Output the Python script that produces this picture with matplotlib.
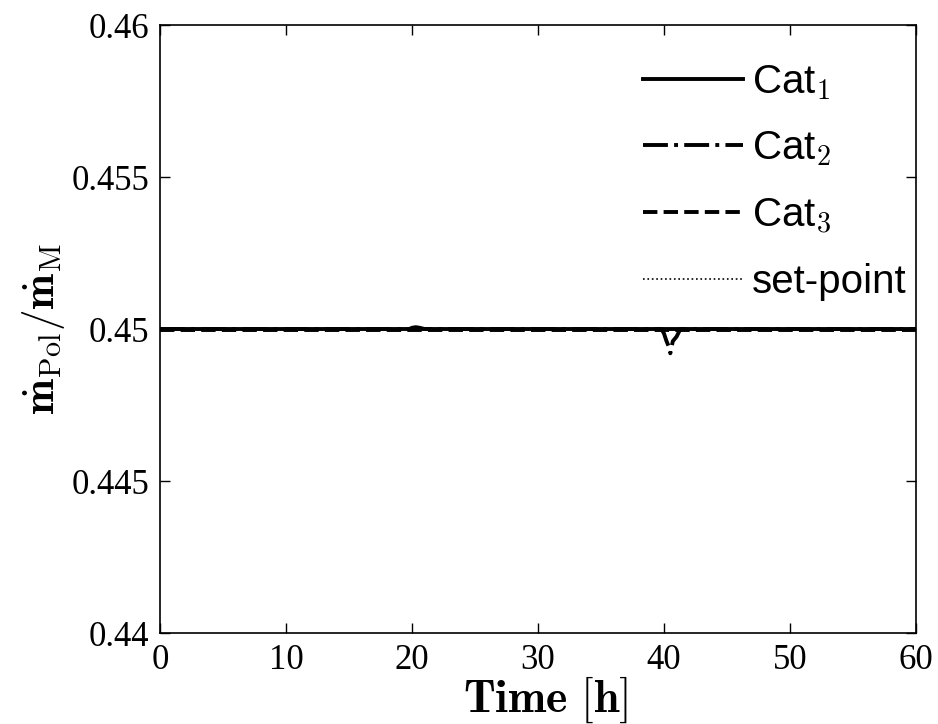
import matplotlib
matplotlib.use("Agg")
import matplotlib.pyplot as plt

plt.rcParams["mathtext.fontset"] = "cm"

# data
t_cat1 = [0, 19.8, 20.0, 20.3, 20.6, 21.0, 60]
y_cat1 = [0.45, 0.45, 0.45004, 0.45006, 0.45004, 0.45, 0.45]
t_cat2 = [0, 39.8, 40.0, 40.2, 40.4, 40.5, 40.7, 41.0, 41.3, 60]
y_cat2 = [0.45, 0.45, 0.44985, 0.4496, 0.4494, 0.44920, 0.4496, 0.44975, 0.45, 0.45]
t_cat3 = [0, 60]
y_cat3 = [0.44997, 0.44997]
t_set = [0, 60]
y_set = [0.45, 0.45]
labels = ["Cat$_1$", "Cat$_2$", "Cat$_3$", "set-point"]
xticks = [0, 10, 20, 30, 40, 50, 60]
yticks = [0.44, 0.445, 0.45, 0.455, 0.46]
ytick_labels = ["0.44", "0.445", "0.45", "0.455", "0.46"]

fig = plt.figure(figsize=(9.38, 7.24), dpi=100)
ax = fig.add_axes([160/938, 1-633/724, (916-160)/938, (633-25)/724])

ax.plot(t_cat1, y_cat1, color="black", lw=2.8, ls="-", label=labels[0])
ax.plot(t_cat2, y_cat2, color="black", lw=2.8, ls="-.", label=labels[1])
ax.plot(t_cat3, y_cat3, color="black", lw=2.8, ls="--", label=labels[2])
ax.plot(t_set, y_set, color="black", lw=1.2, ls=":", label=labels[3])

ax.set_xlim(0, 60)
ax.set_ylim(0.44, 0.46)
ax.set_xticks(xticks)
ax.set_yticks(yticks)
ax.set_yticklabels(ytick_labels)
ax.tick_params(direction="in", length=7, width=1, top=True, right=True,
               labelsize=25, pad=8)
for lab in ax.get_xticklabels() + ax.get_yticklabels():
    lab.set_fontfamily("Liberation Serif")
for s in ax.spines.values():
    s.set_linewidth(1.2)

ax.set_xlabel(r"$\mathbf{Time\ [h]}$", fontsize=33)
ax.xaxis.set_label_coords(0.51, -0.068)
ax.set_ylabel(r"$\dot{\mathbf{m}}_{\mathrm{Pol}}/\dot{\mathbf{m}}_{\mathrm{M}}$", fontsize=31)
ax.yaxis.set_label_coords(-0.123, 0.5)

leg = ax.legend(loc="upper right", bbox_to_anchor=(0.995, 0.947), frameon=False,
                prop={"family": "Liberation Sans", "size": 29},
                handlelength=2.5, handletextpad=0.2, labelspacing=0.68,
                borderaxespad=0.0, borderpad=0.15)
fig.savefig("out.png", dpi=100)
